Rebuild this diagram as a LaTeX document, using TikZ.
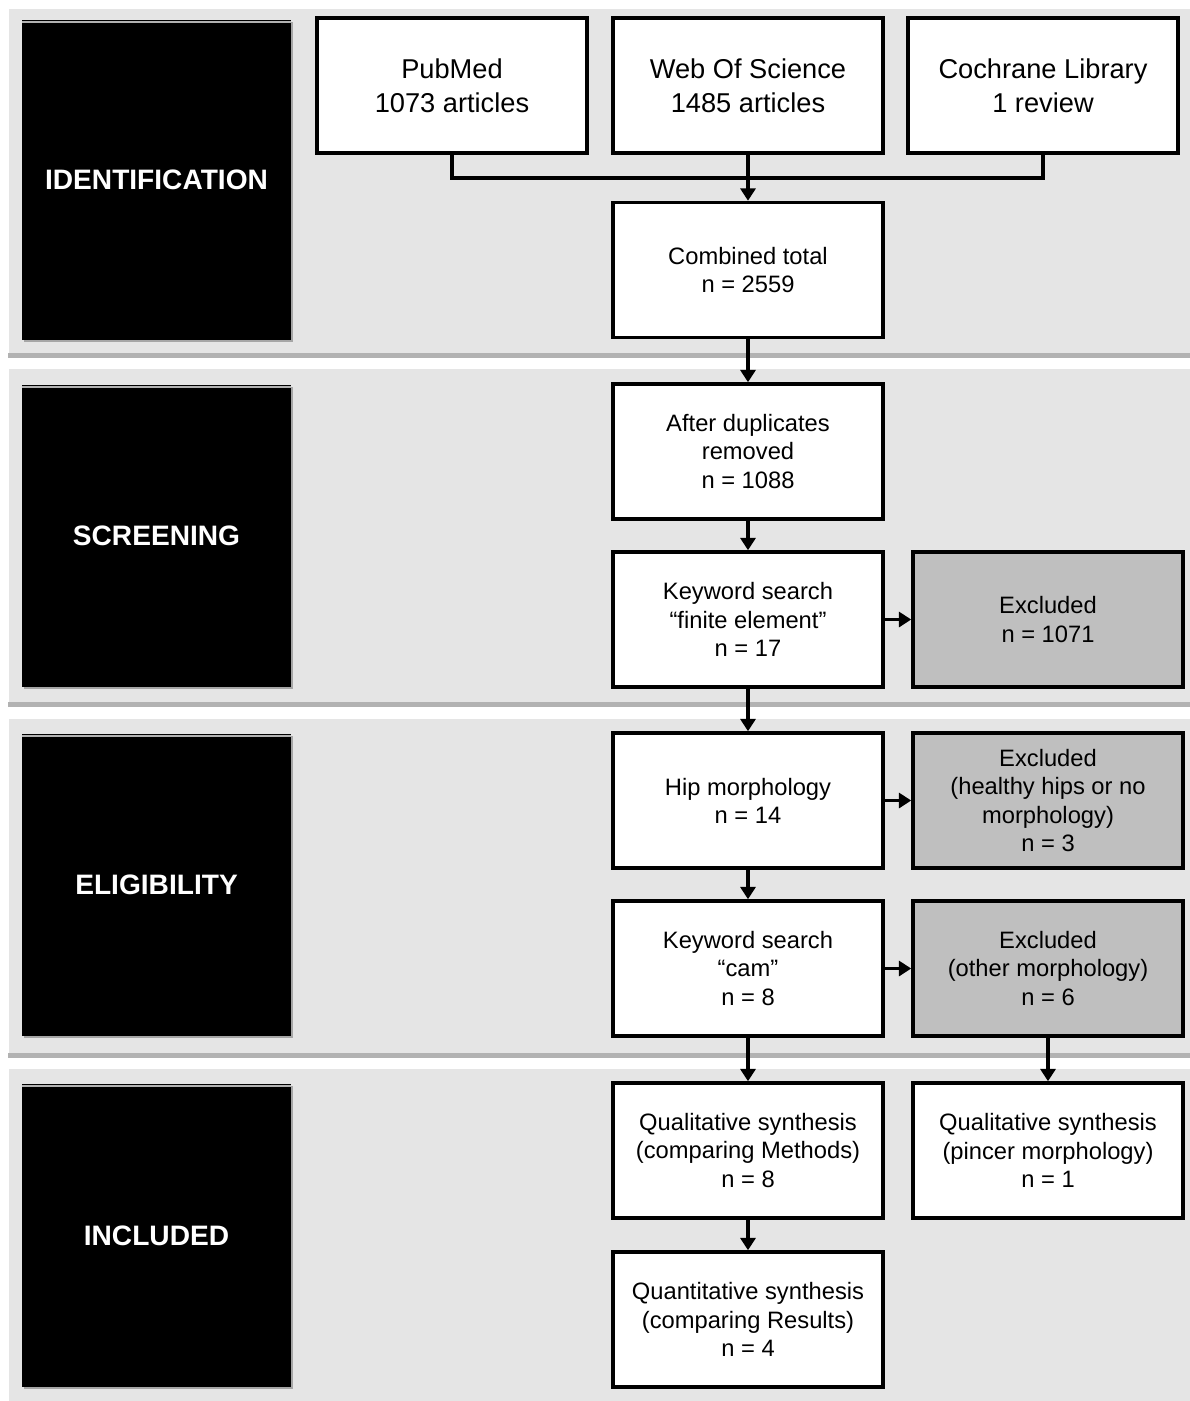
\documentclass[tikz,border=0pt]{standalone}
\usepackage{fontspec}
\setmainfont{Liberation Sans}
\usepackage{xcolor}
\usetikzlibrary{arrows.meta,shadows}
\definecolor{panelgray}{gray}{0.90}
\definecolor{exclgray}{gray}{0.75}
\definecolor{bevelgray}{gray}{0.70}

\tikzset{
  stagebox/.style={fill=black, text=white, minimum width=5.38cm, inner sep=0pt,
    font=\fontsize{16}{19}\selectfont\bfseries,
    drop shadow={shadow xshift=1.2pt, shadow yshift=-1.2pt, fill=gray!70, opacity=1}},
  flowbox/.style={draw, line width=2pt, fill=white, minimum width=5.4cm, minimum height=2.7cm,
    align=center, inner sep=2pt, font=\fontsize{13.5}{16}\selectfont},
  srcbox/.style={flowbox, font=\fontsize{15.5}{19.2}\selectfont},
  exclbox/.style={flowbox, fill=exclgray},
  flowarrow/.style={line width=1.8pt, -{Triangle[length=7pt,width=8.5pt]}}
}

\begin{document}
\begin{tikzpicture}[x=0.2mm, y=-0.2mm]
  \useasboundingbox (0,0) rectangle (1190,1401);
  \fill[white] (0,0) rectangle (1190,1401);
  % Stage panels
  \fill[bevelgray] (8,12) rectangle (1190,358);
  \fill[panelgray] (8,8) rectangle (1190,353);
  \fill[bevelgray] (8,372) rectangle (1190,707);
  \fill[panelgray] (8,368) rectangle (1190,702);
  \fill[bevelgray] (8,722) rectangle (1190,1058);
  \fill[panelgray] (8,718) rectangle (1190,1053);
  \fill[panelgray] (8,1068) rectangle (1190,1401);
  \draw[white, line width=1.5pt] (8,353) -- (8,8) -- (1190,8);
  \draw[white, line width=1.5pt] (8,702) -- (8,368) -- (1190,368);
  \draw[white, line width=1.5pt] (8,1053) -- (8,718) -- (1190,718);
  \draw[white, line width=1.5pt] (8,1401) -- (8,1068) -- (1190,1068);
  % Stage labels
  \node[stagebox, minimum height=6.4cm]  (identlabel) at (156.5,180)  {IDENTIFICATION};
  \node[stagebox, minimum height=6.04cm] (screenlabel) at (156.5,536) {SCREENING};
  \node[stagebox, minimum height=6.04cm] (eliglabel) at (156.5,885)   {ELIGIBILITY};
  \node[stagebox, minimum height=6.06cm] (incllabel) at (156.5,1235.5) {INCLUDED};
  \foreach \lab in {identlabel,screenlabel,eliglabel,incllabel}
    \draw[gray!60, line width=1.2pt] ([yshift=-1.5pt]\lab.north west) -- ([yshift=-1.5pt]\lab.north east);
  % Sources
  \node[srcbox] (pubmed)   at (452,85.5)  {PubMed\\1073 articles};
  \node[srcbox] (wos)      at (748,85.5)  {Web Of Science\\1485 articles};
  \node[srcbox] (cochrane) at (1043,85.5) {Cochrane Library\\1 review};
  \coordinate (merge) at (748,178);
  % Flow boxes
  \node[flowbox] (combined) at (748,270)    {Combined total\\n = 2559};
  \node[flowbox] (dedup)    at (748,451.5)  {After duplicates\\removed\\n = 1088};
  \node[flowbox] (kwfe)     at (748,619.5)  {Keyword search\\“finite element”\\n = 17};
  \node[exclbox] (exfe)     at (1048,619.5) {Excluded\\n = 1071};
  \node[flowbox] (hip)      at (748,800.5)  {Hip morphology\\n = 14};
  \node[exclbox] (exhip)    at (1048,800.5) {Excluded\\(healthy hips or no\\morphology)\\n = 3};
  \node[flowbox] (kwcam)    at (748,968.5)  {Keyword search\\“cam”\\n = 8};
  \node[exclbox] (excam)    at (1048,968.5) {Excluded\\(other morphology)\\n = 6};
  \node[flowbox] (qualmeth) at (748,1150.5) {Qualitative synthesis\\(comparing Methods)\\n = 8};
  \node[flowbox] (qualpin)  at (1048,1150.5) {Qualitative synthesis\\(pincer morphology)\\n = 1};
  \node[flowbox] (quant)    at (748,1319.5) {Quantitative synthesis\\(comparing Results)\\n = 4};
  % Connectors
  \draw[line width=1.8pt] (pubmed.south) |- (merge) -| (cochrane.south);
  \draw[flowarrow] (wos.south) -- (combined.north);
  \draw[flowarrow] (combined) -- (dedup);
  \draw[flowarrow] (dedup) -- (kwfe);
  \draw[flowarrow] (kwfe) -- (exfe);
  \draw[flowarrow] (kwfe) -- (hip);
  \draw[flowarrow] (hip) -- (exhip);
  \draw[flowarrow] (hip) -- (kwcam);
  \draw[flowarrow] (kwcam) -- (excam);
  \draw[flowarrow] (kwcam) -- (qualmeth);
  \draw[flowarrow] (excam) -- (qualpin);
  \draw[flowarrow] (qualmeth) -- (quant);
\end{tikzpicture}
\end{document}
